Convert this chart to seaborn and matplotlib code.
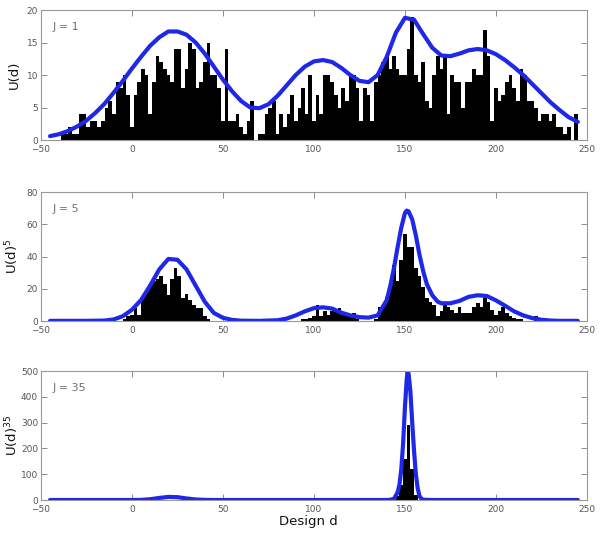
import matplotlib
matplotlib.use("Agg")
import matplotlib.pyplot as plt
import numpy as np
import pandas as pd
import seaborn as sns

# ---- data ----
# histogram bins, width 2, centres -44 .. 244
bin_centres = list(range(-44, 246, 2))
counts_j1 = [
    0, 0, 0, 1, 1, 2, 1, 1, 4, 4,
    2, 3, 3, 2, 3, 5, 6, 4, 9, 8,
    10, 7, 2, 7, 9, 11, 10, 4, 9, 13,
    12, 11, 10, 9, 14, 14, 8, 11, 15, 14,
    8, 9, 12, 15, 10, 10, 8, 3, 14, 3,
    3, 4, 2, 1, 3, 6, 0, 1, 1, 4,
    5, 6, 1, 4, 2, 4, 7, 3, 5, 8,
    4, 10, 3, 7, 4, 10, 10, 9, 7, 5,
    8, 6, 10, 10, 8, 3, 8, 7, 3, 9,
    10, 12, 13, 11, 13, 11, 10, 10, 14, 19,
    10, 9, 12, 6, 5, 10, 13, 11, 13, 4,
    10, 9, 9, 5, 9, 9, 11, 10, 10, 17,
    13, 3, 8, 6, 7, 9, 10, 8, 6, 11,
    10, 6, 6, 5, 3, 4, 4, 3, 4, 2,
    2, 1, 2, 0, 4,
]

centres_j5 = ([-4, -2, 0, 2, 4, 6, 8, 10, 12, 14, 16, 18, 20, 22, 24, 26, 28, 30,
               32, 34, 36, 38, 40, 42]
              + [94, 96, 98, 100, 102, 104, 106, 108, 110, 112, 114, 116, 118,
                 120, 122, 124]
              + [134, 136, 138, 140, 142, 144, 146, 148, 150, 152, 154, 156, 158,
                 160, 162, 164, 166, 168, 170, 172, 174, 176, 178, 180, 182, 184,
                 186, 188, 190, 192, 194, 196, 198, 200, 202, 204, 206, 208, 210,
                 212, 214, 222])
counts_j5 = ([1, 3, 4, 8, 4, 14, 19, 22, 25, 26, 28, 23, 16, 26, 33, 28, 14, 17,
              13, 10, 8, 8, 3, 1]
             + [1, 1, 2, 3, 10, 3, 6, 4, 6, 7, 8, 4, 3, 3, 5, 1]
             + [1, 9, 9, 15, 25, 35, 25, 38, 54, 46, 46, 33, 28, 21, 14, 12, 10,
                3, 6, 10, 9, 7, 5, 9, 5, 5, 5, 9, 11, 9, 14, 12, 7, 4, 6, 9, 5,
                3, 2, 1, 1, 3])

centres_j35 = [146, 148, 150, 152, 154, 156]
counts_j35 = [15, 60, 160, 290, 120, 20]

# smooth utility curves
curve_x1 = [-45, -40, -35, -30, -25, -20, -15, -10, -5, 0, 5, 10, 15, 20, 25, 30,
            35, 40, 45, 50, 55, 60, 65, 70, 75, 80, 85, 90, 95, 100, 105, 110,
            115, 120, 125, 130, 135, 140, 145, 150, 155, 160, 165, 170, 175, 180,
            185, 190, 195, 200, 205, 210, 215, 220, 225, 230, 235, 240, 245]
curve_y1 = [0.6, 0.9, 1.4, 2.1, 3.0, 4.2, 5.6, 7.3, 9.1, 11.0, 12.8, 14.5, 15.8,
            16.7, 16.7, 16.2, 15.0, 13.3, 11.3, 9.3, 7.5, 6.0, 5.0, 4.9, 5.5, 6.8,
            8.4, 10.0, 11.3, 12.1, 12.3, 12.0, 11.1, 10.0, 9.1, 8.9, 10.0, 12.8,
            16.5, 18.8, 18.5, 16.3, 14.2, 13.0, 12.9, 13.3, 13.8, 14.0, 13.8, 13.2,
            12.3, 11.2, 10.0, 8.6, 7.2, 5.8, 4.6, 3.5, 2.8]

curve_x5 = [-45, -25, -20, -15, -10, -5, 0, 5, 10, 15, 20, 25, 30, 35, 40, 45, 50,
            55, 60, 70, 80, 85, 90, 95, 100, 105, 110, 115, 120, 125, 130, 135,
            140, 142, 144, 146, 148, 150, 151, 152, 154, 156, 158, 160, 162, 165,
            168, 170, 175, 180, 185, 190, 195, 200, 205, 210, 215, 220, 225, 230,
            235, 245]
curve_y5 = [0.1, 0.1, 0.2, 0.3, 1, 3, 7, 13, 22, 32, 38.5, 38, 32, 22, 12, 5, 2,
            0.7, 0.2, 0.1, 0.5, 1.5, 3.5, 6, 8, 8.5, 7.7, 5.2, 3.5, 2.4, 2.1, 3.5,
            13, 22, 33, 46, 58, 67, 68.5, 68, 63, 53, 41, 31, 23, 16, 12, 11, 11,
            12.5, 15, 16, 15.5, 12.8, 9.5, 6, 3.5, 1.8, 0.8, 0.3, 0.1, 0.1]

curve_x35 = [-45, 0, 5, 10, 15, 20, 25, 30, 35, 40, 45, 140, 142, 144, 146, 147,
             148, 149, 150, 151, 151.5, 152, 153, 154, 155, 156, 157, 158, 159,
             160, 165, 245]
curve_y35 = [0, 0, 0.5, 3, 8, 12, 11, 6, 2, 0.5, 0, 0, 1, 5, 30, 60, 120, 220,
             360, 470, 498, 490, 420, 300, 190, 100, 45, 15, 5, 1, 0, 0]

panels = [
    ("J = 1", bin_centres, counts_j1, curve_x1, curve_y1, 20, [0, 5, 10, 15, 20], "U(d)"),
    ("J = 5", centres_j5, counts_j5, curve_x5, curve_y5, 80, [0, 20, 40, 60, 80], "U(d)$^5$"),
    ("J = 35", centres_j35, counts_j35, curve_x35, curve_y35, 500,
     [0, 100, 200, 300, 400, 500], "U(d)$^{35}$"),
]

sns.set_style("ticks")
plt.rcParams["font.family"] = ["Liberation Sans Narrow", "DejaVu Sans"]

fig = plt.figure(figsize=(6.02, 5.33), dpi=100)
boxes = [
    [0.068, 0.7373, 0.907, 0.2439],
    [0.068, 0.3977, 0.907, 0.242],
    [0.068, 0.0619, 0.907, 0.242],
]
edges = list(np.arange(-45, 247, 2))
blue = "#1e28e6"

for box, (tag, cx, cy, lx, ly, ymax, yticks, ylab) in zip(boxes, panels):
    ax = fig.add_axes(box)
    hist_df = pd.DataFrame({"d": cx, "u": cy})
    sns.histplot(data=hist_df, x="d", weights="u", bins=edges, ax=ax,
                 color="black", alpha=1, linewidth=0)
    curve_df = pd.DataFrame({"d": lx, "u": ly})
    sns.lineplot(data=curve_df, x="d", y="u", ax=ax, color=blue, lw=3.0)
    ax.set_xlim(-50, 250)
    ax.set_ylim(0, ymax)
    ax.set_xticks([-50, 0, 50, 100, 150, 200, 250])
    ax.set_yticks(yticks)
    ax.tick_params(direction="in", length=4, width=0.6, labelsize=6.5,
                   labelcolor="#555555", color="#777777", top=True, right=True)
    ax.tick_params(axis="x", pad=3.5)
    ax.tick_params(axis="y", pad=2)
    for s in ax.spines.values():
        s.set_color("#999999")
        s.set_linewidth(0.8)
    ax.set_ylabel(ylab, fontsize=9.5, color="#111111", family=["DejaVu Sans"])
    ax.yaxis.set_label_coords(-0.036, 0.5)
    ax.set_xlabel("")
    ax.text(0.022, 0.87, tag, transform=ax.transAxes, fontsize=8,
            color="#707070", va="center")

ax.set_xlabel("Design d", fontsize=9.5, color="#111111", family=["DejaVu Sans"])
ax.xaxis.set_label_coords(0.49, -0.115)

fig.savefig("out.png", dpi=100)
